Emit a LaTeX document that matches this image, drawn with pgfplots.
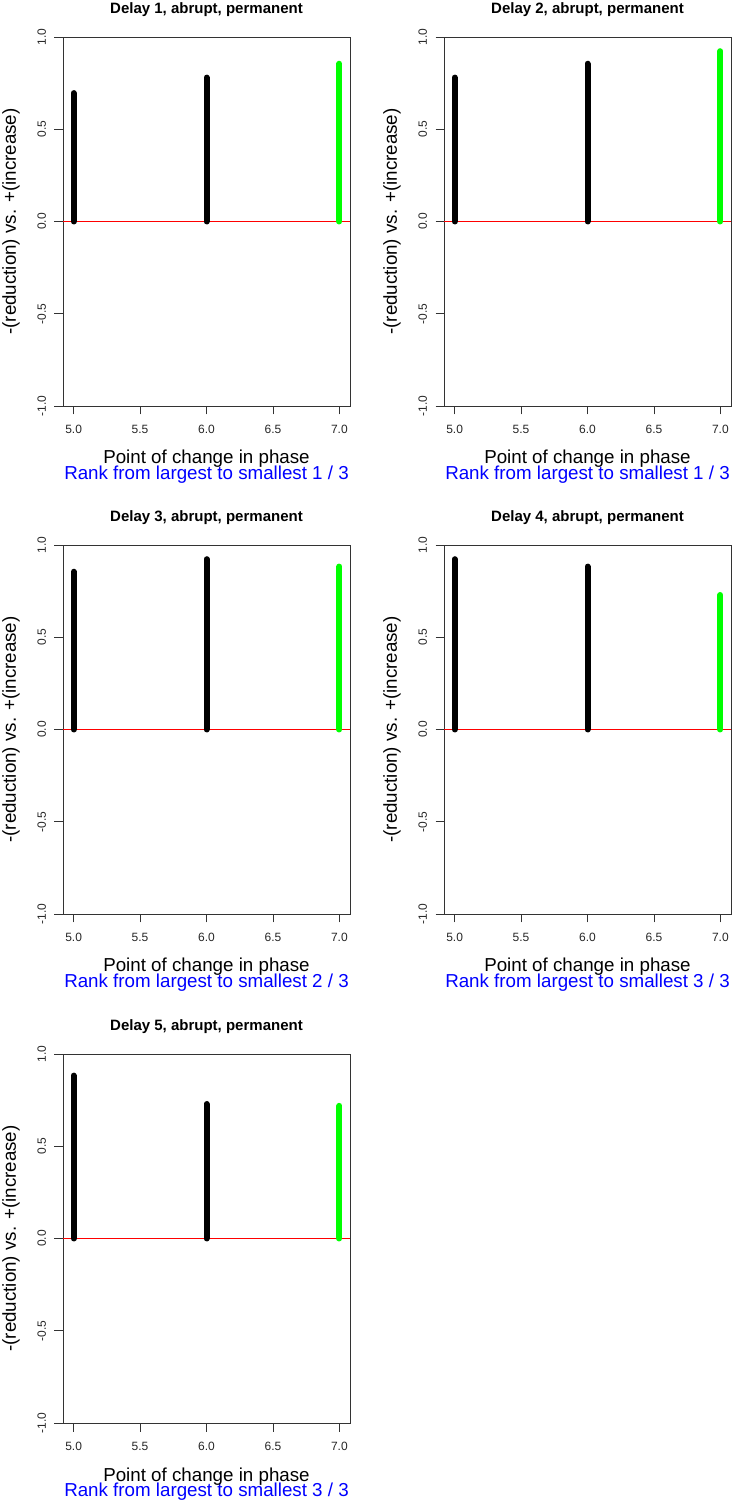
\documentclass[border=0pt]{standalone}
\usepackage{pgfplots}
\pgfplotsset{compat=1.18}
\usepackage{fontspec}
\setmainfont{Liberation Sans}
\definecolor{rgreen}{RGB}{0,255,0}
\definecolor{rblue}{RGB}{0,0,255}
\definecolor{rred}{RGB}{255,0,0}
\pgfplotsset{
 rpanel/.style={
  scale only axis, width=287bp, height=369bp,
  xmin=4.92, xmax=7.08, ymin=-1, ymax=1,
  xtick={5,5.5,6,6.5,7}, ytick={-1,-0.5,0,0.5,1},
  xtick pos=bottom, ytick pos=left, tick align=outside,
  major tick length=8.5bp,
  axis line style={line width=0.8bp, black!80},
  every tick/.style={line width=0.8bp, black!80},
  /pgf/number format/assume math mode=true,
  xticklabel style={font=\fontsize{12bp}{14bp}\selectfont, text=black!85, yshift=-7bp, /pgf/number format/.cd, fixed, fixed zerofill, precision=1},
  yticklabel style={font=\fontsize{12bp}{14bp}\selectfont, text=black!85, rotate=90, anchor=south, yshift=5bp, /pgf/number format/.cd, fixed, fixed zerofill, precision=1},
  title style={font=\bfseries\fontsize{15bp}{18bp}\selectfont, at={(axis description cs:0.5,1.0477)}, anchor=base},
  xlabel style={font=\fontsize{18.75bp}{22bp}\selectfont, at={(axis description cs:0.5,-0.1572)}, anchor=base},
  ylabel style={font=\fontsize{18.75bp}{22bp}\selectfont, at={(axis description cs:-0.1645,0.5)}, anchor=base},
  xlabel={Point of change in phase},
  ylabel={-(reduction) vs. +(increase)},
  clip=false,
 },
 stem/.style={ycomb, line width=6bp, line cap=round, mark=none},
 zeroline/.style={draw=rred, line width=1.2bp, mark=none},
}
\newcommand{\ranktext}[1]{\node[anchor=base, font=\fontsize{18.75bp}{22bp}\selectfont, text=rblue] at (axis description cs:0.5,-0.2005) {Rank from largest to smallest #1};}
\begin{document}
\begin{tikzpicture}
\path[use as bounding box] (0,0) rectangle (733bp,1502bp);
% Panel 1
\begin{axis}[rpanel, at={(63bp,1096bp)}, anchor=south west, title={Delay 1, abrupt, permanent}]
\addplot[zeroline] coordinates {(4.92,0) (7.08,0)};
\addplot[stem, black] coordinates {(5,0.696) (6,0.780)};
\addplot[stem, rgreen] coordinates {(7,0.855)};
\ranktext{1 / 3}
\end{axis}
% Panel 2
\begin{axis}[rpanel, at={(444bp,1096bp)}, anchor=south west, title={Delay 2, abrupt, permanent}]
\addplot[zeroline] coordinates {(4.92,0) (7.08,0)};
\addplot[stem, black] coordinates {(5,0.780) (6,0.855)};
\addplot[stem, rgreen] coordinates {(7,0.923)};
\ranktext{1 / 3}
\end{axis}
% Panel 3
\begin{axis}[rpanel, at={(63bp,588bp)}, anchor=south west, title={Delay 3, abrupt, permanent}]
\addplot[zeroline] coordinates {(4.92,0) (7.08,0)};
\addplot[stem, black] coordinates {(5,0.855) (6,0.923)};
\addplot[stem, rgreen] coordinates {(7,0.883)};
\ranktext{2 / 3}
\end{axis}
% Panel 4
\begin{axis}[rpanel, at={(444bp,588bp)}, anchor=south west, title={Delay 4, abrupt, permanent}]
\addplot[zeroline] coordinates {(4.92,0) (7.08,0)};
\addplot[stem, black] coordinates {(5,0.923) (6,0.883)};
\addplot[stem, rgreen] coordinates {(7,0.729)};
\ranktext{3 / 3}
\end{axis}
% Panel 5
\begin{axis}[rpanel, at={(63bp,79bp)}, anchor=south west, title={Delay 5, abrupt, permanent}]
\addplot[zeroline] coordinates {(4.92,0) (7.08,0)};
\addplot[stem, black] coordinates {(5,0.883) (6,0.729)};
\addplot[stem, rgreen] coordinates {(7,0.719)};
\ranktext{3 / 3}
\end{axis}
\end{tikzpicture}
\end{document}
